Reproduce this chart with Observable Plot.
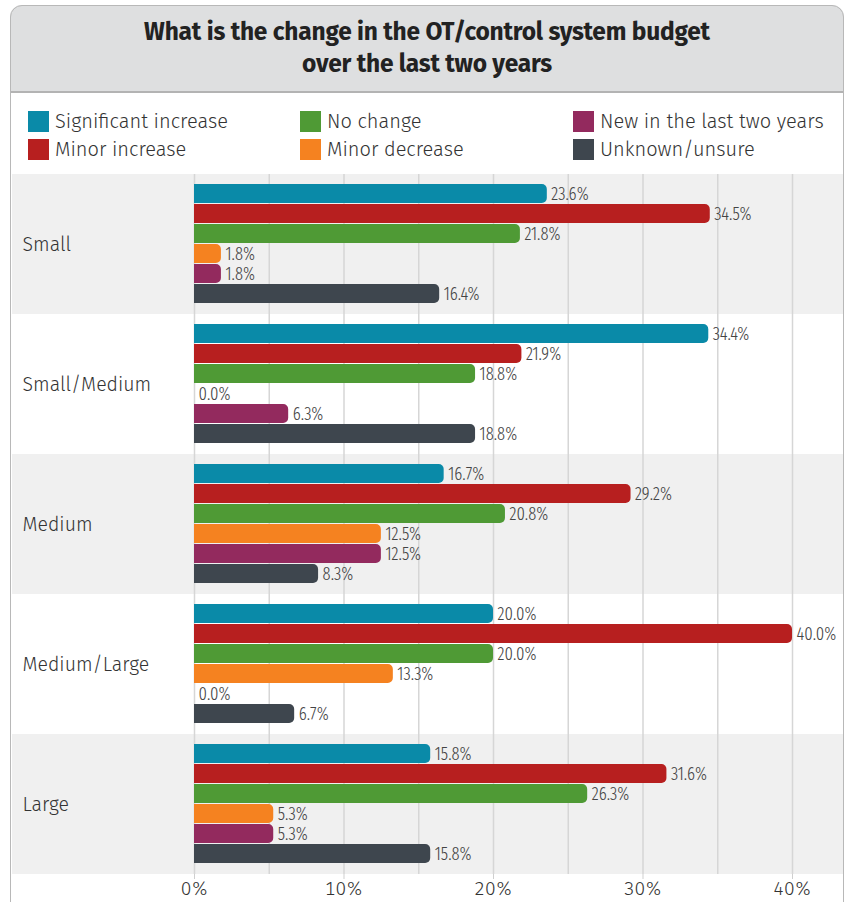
<!DOCTYPE html>
<html>
<head>
<meta charset="utf-8">
<script src="https://cdn.jsdelivr.net/npm/d3@7"></script>
<script src="https://cdn.jsdelivr.net/npm/@observablehq/plot@0.6"></script>
<style>
  body { margin: 0; width: 852px; height: 902px; position: relative; overflow: hidden; background: #fff;
         font-family: "Fira Sans", Roboto, "Noto Sans", sans-serif; }
  #card { position: absolute; left: 10px; top: 5px; width: 832px; height: 940px; border: 1.5px solid #b8b8b8;
          border-radius: 12px 12px 0 0; z-index: 5; pointer-events: none; }
  #header { position: absolute; left: 10px; top: 5px; width: 834px; height: 86px; background: #dedfe0;
            border-radius: 12px 12px 0 0; border-bottom: 2px solid #b3b3b3; display: flex; flex-direction: column;
            justify-content: center; align-items: center; }
  #header div { font-weight: bold; font-size: 24.5px; line-height: 32px; color: #222; letter-spacing: -0.2px; }
  #legend { position: absolute; left: 0; top: 93px; width: 852px; height: 79px; }
  .item { position: absolute; display: flex; align-items: center; font-size: 20px; color: #333; height: 22px; font-weight: 300; }
  .sw { width: 21px; height: 21px; margin-right: 6px; }
  #chart { position: absolute; left: 0; top: 172px; }
</style>
</head>
<body>
<div id="header"><div>What is the change in the OT/control system budget</div><div>over the last two years</div></div>
<div id="legend"></div>
<div id="chart"></div>
<div id="card"></div>
<script>
// ---- data ----
const groups = ["Small", "Small/Medium", "Medium", "Medium/Large", "Large"];
const series = ["Significant increase", "Minor increase", "No change", "Minor decrease", "New in the last two years", "Unknown/unsure"];
const colors = ["#0a8aa8", "#b71f1f", "#4f9a35", "#f58220", "#932a5e", "#3e464e"];
const significantIncrease = [23.6, 34.4, 16.7, 20.0, 15.8];
const minorIncrease       = [34.5, 21.9, 29.2, 40.0, 31.6];
const noChange            = [21.8, 18.8, 20.8, 20.0, 26.3];
const minorDecrease       = [1.8, 0.0, 12.5, 13.3, 5.3];
const newLastTwoYears     = [1.8, 6.3, 12.5, 0.0, 5.3];
const unknownUnsure       = [16.4, 18.8, 8.3, 6.7, 15.8];
const xTicks = [0, 10, 20, 30, 40];
const gridValues = [0, 5, 10, 15, 20, 25, 30, 35, 40];

const seriesValues = [significantIncrease, minorIncrease, noChange, minorDecrease, newLastTwoYears, unknownUnsure];
const rows = groups.flatMap((g, gi) => series.map((s, si) => ({group: g, series: s, value: seriesValues[si][gi]})));

// ---- legend ----
const legendPos = [[28,110],[28,138],[300,110],[300,138],[573,110],[573,138]];
const leg = document.getElementById("legend");
series.forEach((s, k) => {
  const el = document.createElement("div");
  el.className = "item";
  el.style.left = legendPos[k][0] + "px";
  el.style.top = (legendPos[k][1] - 93) + "px";
  el.innerHTML = `<span class="sw" style="background:${colors[k]}"></span><span>${s}</span>`;
  leg.appendChild(el);
});

// ---- chart ----
const pxPerUnit = 14.95;
const x0 = 194;
const xMax = (843 - x0) / pxPerUnit;
const bgLeft = (12 - x0) / pxPerUnit;
const labelX = (22 - x0) / pxPerUnit;

const chart = Plot.plot({
  width: 852,
  height: 730,
  marginLeft: x0,
  marginRight: 9,
  marginTop: 0,
  marginBottom: 27,
  style: {fontFamily: "'Fira Sans', Roboto, sans-serif", background: "transparent"},
  x: {domain: [0, xMax], axis: null, label: null},
  y: {domain: series, axis: null, paddingInner: 0.03, paddingOuter: 0.45},
  fy: {domain: groups, axis: null, padding: 0},
  color: {domain: series, range: colors},
  marks: [
    Plot.rect(groups, {fy: d => d, x1: () => bgLeft, x2: () => xMax,
                        fill: (d, i) => i % 2 === 0 ? "#f0f0f0" : "#ffffff"}),
    Plot.ruleX(gridValues, {stroke: "#d6d6d6", strokeWidth: 1.5}),
    Plot.text(groups, {fy: d => d, x: () => labelX, text: d => d, textAnchor: "start",
                       fontSize: 19.5, fontWeight: 300, fill: "#333"}),
    Plot.barX(rows, {x: "value", y: "series", fy: "group", fill: "series", rx2: 5}),
    Plot.text(rows, {x: "value", y: "series", fy: "group", text: d => d.value.toFixed(1) + "%",
                     dx: 4, textAnchor: "start", fontSize: 18, fontWeight: 300, fill: "#444",
                     fontFamily: "'Fira Sans Extra Condensed', 'Fira Sans Condensed', 'Roboto Condensed', 'Liberation Sans Narrow', 'DejaVu Sans Condensed', sans-serif",
                     fontStretch: "condensed"}),
    Plot.axisX(xTicks, {anchor: "bottom", label: null, tickFormat: d => d + "%", tickSize: 5, tickPadding: 2,
                        fontSize: 19, fontWeight: 300, stroke: "#cfcfcf", color: "#333"})
  ]
});
document.getElementById("chart").appendChild(chart);
</script>
</body>
</html>
